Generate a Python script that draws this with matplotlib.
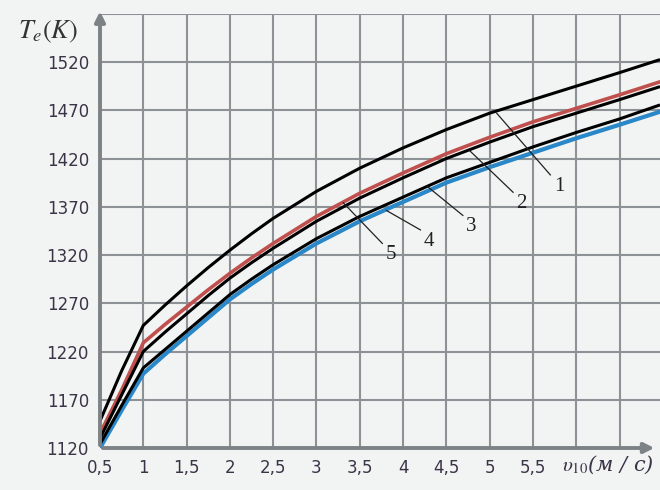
import matplotlib
matplotlib.use("Agg")
import matplotlib.pyplot as plt
import numpy as np

# Data
v = [0.5, 0.75, 1.0, 1.25, 1.5, 1.75, 2.0, 2.25, 2.5, 3.0, 3.5, 4.0, 4.5, 5.0, 5.5, 6.0, 6.5, 6.95]
curve1 = [1148, 1200, 1247, 1268, 1288, 1307, 1325, 1342, 1358, 1386, 1410, 1431, 1450, 1467, 1481, 1495, 1509, 1522]
curve_red = [1135, 1180, 1229, 1248, 1266, 1284, 1301, 1317, 1332, 1360, 1384, 1405, 1425, 1442, 1458, 1472, 1486, 1499]
curve2 = [1130, 1175, 1220, 1240, 1259, 1278, 1296, 1312, 1327, 1355, 1379, 1400, 1420, 1437, 1453, 1467, 1481, 1494]
curve3 = [1124, 1164, 1203, 1222, 1241, 1260, 1279, 1295, 1310, 1337, 1360, 1380, 1400, 1416, 1432, 1447, 1461, 1475]
curve_blue = [1120, 1159, 1197, 1217, 1236, 1255, 1274, 1290, 1305, 1332, 1355, 1375, 1395, 1411, 1426, 1441, 1455, 1468]

x_ticks = [0.5, 1, 1.5, 2, 2.5, 3, 3.5, 4, 4.5, 5, 5.5]
x_ticklabels = ["0,5", "1", "1,5", "2", "2,5", "3", "3,5", "4", "4,5", "5", "5,5"]
y_ticks = [1120, 1170, 1220, 1270, 1320, 1370, 1420, 1470, 1520]

# leader labels: (label, curve point, end of leader)
leaders = [
    ("1", (5.08, 1467), (5.70, 1403)),
    ("2", (4.77, 1428), (5.27, 1385)),
    ("3", (4.28, 1391), (4.69, 1361)),
    ("4", (3.81, 1366), (4.20, 1346)),
    ("5", (3.31, 1374), (3.76, 1332)),
]

plt.rcParams['mathtext.fontset'] = 'stix'
bg = '#f2f3f3'
fig = plt.figure(figsize=(6.6, 4.9), dpi=100, facecolor=bg)
ax = fig.add_axes([100/660, 42/490, 560/660, 1 - 13.75/490 - 42/490])
ax.set_facecolor(bg)
ax.set_xlim(0.5, 0.5 + 560/86.6)
ax.set_ylim(1120, 1570)

gc = '#8d9296'
for xv in np.arange(1.0, 6.51, 0.5):
    ax.axvline(xv, color=gc, lw=1.5, zorder=1)
for yv in np.arange(1170, 1571, 50):
    ax.axhline(yv, color=gc, lw=1.5, zorder=1)

for s in ax.spines.values():
    s.set_visible(False)

ax.set_xticks(x_ticks)
ax.set_xticklabels(x_ticklabels)
ax.set_yticks(y_ticks)
ax.tick_params(length=0, labelsize=12, colors='#3b3346', pad=8)

# curves
ax.plot(v, curve_blue, color='#2a87c8', lw=3.0, zorder=3, solid_joinstyle='round')
ax.plot(v, curve3, color='black', lw=2.2, zorder=4, solid_joinstyle='round')
ax.plot(v, curve_red, color='#c0504d', lw=2.6, zorder=4, solid_joinstyle='round')
ax.plot(v, curve2, color='black', lw=2.2, zorder=5, solid_joinstyle='round')
ax.plot(v, curve1, color='black', lw=2.2, zorder=5, solid_joinstyle='round')

# axes arrows
ax.annotate('', xy=(0, 1.012), xytext=(0, 0), xycoords='axes fraction',
            arrowprops=dict(arrowstyle='-|>,head_length=0.6,head_width=0.3', color='#7d8286', lw=2.8),
            annotation_clip=False, zorder=6)
ax.annotate('', xy=(0.995, 0), xytext=(0, 0), xycoords='axes fraction',
            arrowprops=dict(arrowstyle='-|>,head_length=0.6,head_width=0.3', color='#7d8286', lw=2.8),
            annotation_clip=False, zorder=6)

# leaders
for lab, p0, p1 in leaders:
    ax.plot([p0[0], p1[0]], [p0[1], p1[1]], color='#222222', lw=0.9, zorder=6)
    ax.text(p1[0] + 0.04, p1[1] - 2, lab, fontsize=15, family='Liberation Serif',
            ha='left', va='top', color='#222222', zorder=7)

# axis labels
fig.text(18/660, 1 - 32/490, r'$T_e(K)$', fontsize=19, color='#333333', ha='left', va='center')
ax.text(0.5 + (562 - 100)/86.6, 1120 - 6, r'$\upsilon_{10}$(м / с)', fontsize=15,
        fontstyle='italic', family='DejaVu Serif', color='#3b3346',
        ha='left', va='top')

fig.savefig('out.png', dpi=100, facecolor=bg)
